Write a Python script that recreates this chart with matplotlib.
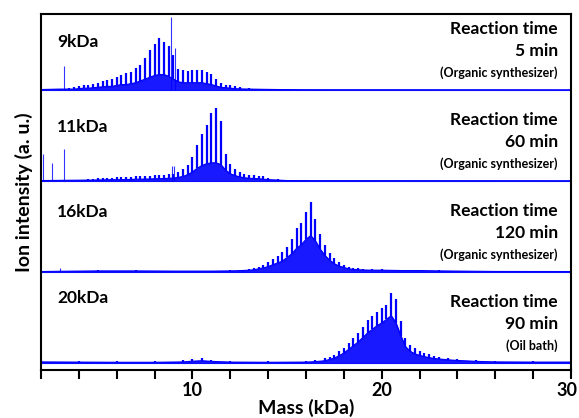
import matplotlib
matplotlib.use("Agg")
import matplotlib.pyplot as plt
import matplotlib.transforms as mtransforms

plt.rcParams['font.family'] = ['Lato', 'DejaVu Sans']

# panel 1 (9 kDa, 5 min)
m1 = [2.0, 3.0, 3.5, 3.75, 4.0, 4.25, 4.5, 4.75, 5.0, 5.25, 5.5, 5.75, 6.0, 6.25, 6.5, 6.75,
      7.0, 7.25, 7.5, 7.75, 8.0, 8.25, 8.5, 8.75, 9.0, 9.25, 9.5, 9.75, 10.0, 10.25, 10.5, 10.75,
      11.0, 11.25, 11.5, 11.75, 12.0, 12.25, 12.5, 13.0, 13.5, 14.5, 16.0, 30.0]
top1 = [0.01, 0.015, 0.02, 0.03, 0.04, 0.05, 0.06, 0.07, 0.08, 0.10, 0.11, 0.12, 0.14, 0.17, 0.19, 0.20,
        0.24, 0.28, 0.35, 0.44, 0.50, 0.57, 0.53, 0.48, 0.38, 0.23, 0.22, 0.21, 0.22, 0.22, 0.22, 0.20,
        0.18, 0.12, 0.08, 0.06, 0.05, 0.04, 0.03, 0.02, 0.015, 0.01, 0.005, 0.003]
val1 = [0.005, 0.01, 0.01, 0.01, 0.015, 0.02, 0.02, 0.025, 0.03, 0.035, 0.04, 0.04, 0.05, 0.06, 0.06, 0.07,
        0.08, 0.10, 0.12, 0.14, 0.16, 0.17, 0.17, 0.15, 0.12, 0.09, 0.08, 0.08, 0.08, 0.08, 0.08, 0.07,
        0.06, 0.045, 0.03, 0.025, 0.02, 0.015, 0.012, 0.01, 0.008, 0.005, 0.003, 0.002]
spk1_m = [3.2, 8.88, 9.1]
spk1_h = [0.26, 0.80, 0.46]

# panel 2 (11 kDa, 60 min)
m2 = [2.0, 3.5, 4.5, 4.75, 5.0, 5.25, 5.5, 5.75, 6.0, 6.25, 6.5, 6.75, 7.0, 7.25, 7.5, 7.75,
      8.0, 8.25, 8.5, 8.75, 9.0, 9.25, 9.5, 9.75, 10.0, 10.25, 10.5, 10.75, 11.0, 11.25, 11.5, 11.75,
      12.0, 12.25, 12.5, 12.75, 13.0, 13.25, 13.5, 13.75, 14.0, 14.5, 15.0, 16.0, 30.0]
top2 = [0.01, 0.015, 0.02, 0.025, 0.03, 0.03, 0.035, 0.035, 0.04, 0.04, 0.045, 0.045, 0.05, 0.055, 0.06, 0.06,
        0.065, 0.065, 0.07, 0.075, 0.08, 0.10, 0.13, 0.18, 0.26, 0.40, 0.52, 0.62, 0.75, 0.80, 0.66, 0.30,
        0.19, 0.13, 0.10, 0.08, 0.07, 0.065, 0.06, 0.05, 0.035, 0.02, 0.01, 0.008, 0.005]
val2 = [0.005, 0.008, 0.01, 0.01, 0.012, 0.012, 0.014, 0.014, 0.015, 0.015, 0.017, 0.017, 0.02, 0.02, 0.022, 0.022,
        0.025, 0.025, 0.027, 0.03, 0.032, 0.04, 0.05, 0.07, 0.10, 0.14, 0.17, 0.19, 0.20, 0.20, 0.18, 0.12,
        0.08, 0.06, 0.045, 0.035, 0.03, 0.028, 0.025, 0.02, 0.015, 0.01, 0.005, 0.004, 0.003]
spk2_m = [2.12, 2.6, 3.2, 8.9, 9.05]
spk2_h = [0.30, 0.20, 0.35, 0.17, 0.17]

# panel 3 (16 kDa, 120 min)
m3 = [2.0, 3.0, 5.0, 7.0, 9.0, 11.0, 12.0, 12.5, 13.0, 13.25, 13.5, 13.75, 14.0, 14.25, 14.5, 14.75,
      15.0, 15.25, 15.5, 15.75, 16.0, 16.25, 16.5, 16.75, 17.0, 17.25, 17.5, 17.75, 18.0, 18.25, 18.5, 18.75,
      19.0, 19.5, 20.0, 21.0, 22.0, 23.0, 24.0, 26.0, 30.0]
top3 = [0.01, 0.015, 0.02, 0.02, 0.015, 0.015, 0.02, 0.025, 0.035, 0.045, 0.06, 0.08, 0.11, 0.14, 0.18, 0.22,
        0.28, 0.36, 0.48, 0.54, 0.66, 0.77, 0.58, 0.42, 0.30, 0.21, 0.15, 0.11, 0.08, 0.06, 0.045, 0.04,
        0.035, 0.03, 0.03, 0.025, 0.025, 0.02, 0.015, 0.01, 0.008]
val3 = [0.005, 0.008, 0.012, 0.012, 0.01, 0.01, 0.012, 0.015, 0.02, 0.025, 0.035, 0.045, 0.06, 0.08, 0.10, 0.12,
        0.16, 0.20, 0.26, 0.30, 0.36, 0.40, 0.34, 0.25, 0.18, 0.13, 0.09, 0.065, 0.05, 0.035, 0.028, 0.025,
        0.022, 0.02, 0.02, 0.016, 0.016, 0.012, 0.01, 0.006, 0.005]
spk3_m = [3.0]
spk3_h = [0.04]

# panel 4 (20 kDa, 90 min oil bath)
m4 = [2.0, 4.0, 6.0, 8.0, 9.5, 10.0, 10.5, 11.0, 12.0, 14.0, 16.0, 16.5, 17.0, 17.25, 17.5, 17.75,
      18.0, 18.25, 18.5, 18.75, 19.0, 19.25, 19.5, 19.75, 20.0, 20.25, 20.5, 20.75, 21.0, 21.25, 21.5, 21.75,
      22.0, 22.25, 22.5, 22.75, 23.0, 23.5, 24.0, 25.0, 26.0, 28.0, 30.0]
top4 = [0.03, 0.025, 0.02, 0.02, 0.03, 0.045, 0.05, 0.035, 0.02, 0.018, 0.022, 0.03, 0.05, 0.07, 0.09, 0.13,
        0.17, 0.22, 0.28, 0.33, 0.40, 0.47, 0.52, 0.56, 0.60, 0.64, 0.77, 0.70, 0.46, 0.28, 0.20, 0.16,
        0.13, 0.11, 0.095, 0.08, 0.07, 0.055, 0.045, 0.03, 0.022, 0.018, 0.016]
val4 = [0.012, 0.01, 0.008, 0.008, 0.012, 0.02, 0.025, 0.018, 0.01, 0.008, 0.01, 0.015, 0.025, 0.04, 0.055, 0.08,
        0.11, 0.15, 0.19, 0.23, 0.28, 0.33, 0.37, 0.41, 0.44, 0.48, 0.52, 0.44, 0.30, 0.18, 0.13, 0.10,
        0.085, 0.07, 0.06, 0.05, 0.045, 0.035, 0.028, 0.018, 0.012, 0.01, 0.01]
spk4_m = []
spk4_h = []

mw_labels = ["9kDa", "11kDa", "16kDa", "20kDa"]
times = ["5 min", "60 min", "120 min", "90 min"]
methods = ["(Organic synthesizer)", "(Organic synthesizer)", "(Organic synthesizer)", "(Oil bath)"]
label_dy = [0.53, 0.59, 0.66, 0.71]

xticks = [2, 4, 6, 8, 10, 12, 14, 16, 18, 20, 22, 24, 26, 28, 30]
labelled_ticks = [10, 20, 30]

panels = [(m1, top1, val1, spk1_m, spk1_h),
          (m2, top2, val2, spk2_m, spk2_h),
          (m3, top3, val3, spk3_m, spk3_h),
          (m4, top4, val4, spk4_m, spk4_h)]

fig = plt.figure(figsize=(5.79, 4.18), dpi=100)
ax = fig.add_axes([0.0708, 0.1148, 0.9154, 0.8517])
blue = '#0000ff'

for i, (m, top, val, sm, sh) in enumerate(panels):
    off = 3 - i
    base = [off] * len(m)
    ax.fill_between(m, base, [off + v for v in val], color=blue, lw=0.8, alpha=0.9)
    ax.vlines(m, [off + v for v in val], [off + t for t in top], color=blue, lw=1.6)
    ax.plot(m, [off + v for v in val], color=blue, lw=0.8)
    if sm:
        ax.vlines(sm, off, [off + h for h in sh], color=blue, lw=0.8, alpha=0.8)
    ax.text(2.84, off + label_dy[i], mw_labels[i], fontsize=12.5, fontweight='bold', va='center', ha='left')
    ax.text(29.3, off + 0.67, "Reaction time", fontsize=12.5, fontweight='bold', va='center', ha='right')
    ax.text(29.3, off + 0.43, times[i], fontsize=12.5, fontweight='bold', va='center', ha='right')
    ax.text(29.3, off + 0.19, methods[i], fontsize=9, fontweight='bold', va='center', ha='right')

ax.set_xlim(2, 30)
ax.set_ylim(-0.077, 3.835)
ax.set_xticks(xticks)
ax.set_xticklabels([str(t) if t in labelled_ticks else '' for t in xticks], fontweight='bold', fontsize=13)
ax.set_yticks([])
ax.tick_params(axis='x', direction='out', length=6.5, width=1.5, pad=2)
for s in ax.spines.values():
    s.set_linewidth(1.5)
ax.set_xlabel("Mass (kDa)", fontsize=14, fontweight='bold', labelpad=0)
ax.set_ylabel("Ion intensity (a. u.)", fontsize=14, fontweight='bold', labelpad=6)

# keep the last tick label inside the figure
last = ax.get_xticklabels()[-1]
last.set_transform(last.get_transform() + mtransforms.ScaledTranslation(-4 / 100, 0, fig.dpi_scale_trans))

fig.savefig("out.png", dpi=100)
